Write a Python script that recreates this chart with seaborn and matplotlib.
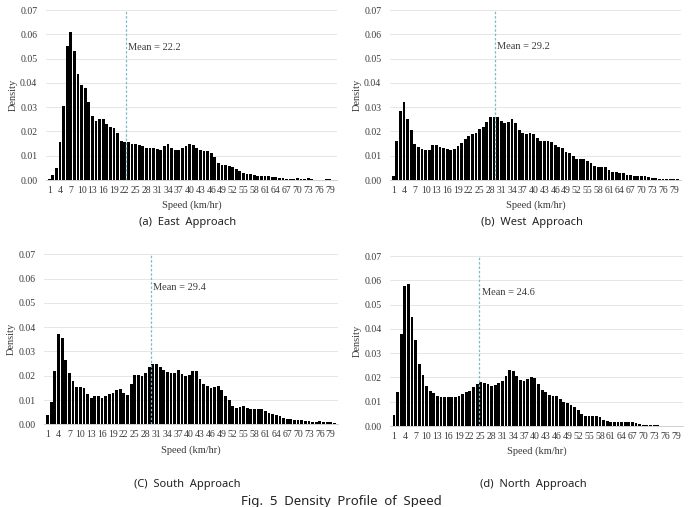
import numpy as np
import pandas as pd
import matplotlib
matplotlib.use("Agg")
import matplotlib.pyplot as plt
import seaborn as sns

sns.set_theme(style="white")
plt.rcParams['font.family'] = ['Liberation Serif', 'DejaVu Serif']

speeds = list(range(1, 81))
tick_labels = [str(s) for s in range(1, 80, 3)]

east = [0.0005, 0.002, 0.005, 0.0155, 0.0305, 0.055, 0.061, 0.053, 0.0435, 0.039,
        0.038, 0.032, 0.0265, 0.0245, 0.025, 0.025, 0.023, 0.022, 0.0215, 0.0195,
        0.016, 0.0155, 0.0155, 0.0148, 0.0147, 0.0143, 0.0138, 0.0132, 0.0133, 0.0133,
        0.0127, 0.0122, 0.014, 0.0147, 0.013, 0.0122, 0.0122, 0.013, 0.014, 0.0148,
        0.0145, 0.0133, 0.0125, 0.012, 0.0118, 0.011, 0.0095, 0.0072, 0.0063, 0.006,
        0.0058, 0.0053, 0.0047, 0.0038, 0.003, 0.0025, 0.0024, 0.0022, 0.0018, 0.0016,
        0.0015, 0.0015, 0.0013, 0.0012, 0.0009, 0.0008, 0.0006, 0.0004, 0.0003, 0.0007,
        0.0006, 0.0006, 0.0007, 0.0003, 0.0002, 0.0001, 0.0001, 0.0003, 0.0003, 0.0002]

west = [0.0018, 0.016, 0.0285, 0.032, 0.025, 0.0205, 0.0147, 0.0135, 0.0128, 0.0125,
        0.0125, 0.0145, 0.0145, 0.0137, 0.0133, 0.0128, 0.0125, 0.0128, 0.014, 0.0152,
        0.0168, 0.018, 0.019, 0.0195, 0.021, 0.022, 0.024, 0.0258, 0.026, 0.026,
        0.0245, 0.0235, 0.0237, 0.025, 0.0235, 0.0205, 0.0193, 0.019, 0.0193, 0.019,
        0.0175, 0.0162, 0.016, 0.016, 0.0155, 0.0143, 0.0137, 0.013, 0.0115, 0.011,
        0.0097, 0.0087, 0.0087, 0.0087, 0.008, 0.0068, 0.0058, 0.0053, 0.0053, 0.0052,
        0.0042, 0.0035, 0.0033, 0.003, 0.0027, 0.0022, 0.002, 0.0018, 0.0016, 0.0016,
        0.0015, 0.0012, 0.0009, 0.0007, 0.0006, 0.0006, 0.0005, 0.0005, 0.0005, 0.0005]

south = [0.004, 0.009, 0.022, 0.037, 0.0355, 0.0265, 0.0213, 0.0178, 0.0155, 0.0152,
         0.0148, 0.0125, 0.0108, 0.0115, 0.0115, 0.011, 0.0118, 0.0125, 0.0128, 0.014,
         0.0145, 0.0128, 0.012, 0.0168, 0.0205, 0.0202, 0.020, 0.021, 0.0237, 0.025,
         0.0248, 0.0237, 0.0222, 0.0215, 0.0212, 0.0213, 0.0222, 0.0207, 0.0197, 0.0205,
         0.0218, 0.0218, 0.0188, 0.0168, 0.0158, 0.015, 0.0152, 0.0158, 0.014, 0.0118,
         0.010, 0.0077, 0.0068, 0.0072, 0.0075, 0.0068, 0.0065, 0.0063, 0.0063, 0.0063,
         0.0055, 0.0045, 0.0042, 0.004, 0.0035, 0.0025, 0.0022, 0.002, 0.0018, 0.0017,
         0.0016, 0.0015, 0.0012, 0.0008, 0.001, 0.0012, 0.001, 0.001, 0.0008, 0.0004]

north = [0.0045, 0.0138, 0.038, 0.0575, 0.0585, 0.045, 0.0355, 0.0255, 0.021, 0.0165,
         0.0145, 0.0135, 0.0122, 0.0118, 0.0118, 0.0118, 0.0118, 0.0118, 0.0122, 0.013,
         0.0138, 0.0145, 0.016, 0.0175, 0.018, 0.0177, 0.0172, 0.0165, 0.017, 0.0178,
         0.0185, 0.0205, 0.023, 0.0225, 0.0205, 0.019, 0.0187, 0.0195, 0.0202, 0.0198,
         0.0172, 0.015, 0.0138, 0.0128, 0.0125, 0.0122, 0.0112, 0.010, 0.0093, 0.0087,
         0.0078, 0.0065, 0.005, 0.0042, 0.004, 0.0043, 0.0043, 0.0037, 0.0025, 0.002,
         0.0018, 0.0018, 0.0018, 0.0015, 0.0017, 0.0017, 0.0015, 0.0012, 0.0008, 0.0006,
         0.0005, 0.0005, 0.0005, 0.0003, 0.0002, 0.0002, 0.0001, 0.0, 0.0, 0.0]

means = [22.2, 29.2, 29.4, 24.6]
captions = ["(a)  East  Approach", "(b)  West  Approach",
            "(C)  South  Approach", "(d)  North  Approach"]
series = [east, west, south, north]
mean_text_y = [0.0545, 0.055, 0.0565, 0.0551]

W, H = 688, 507
# axes boxes in pixels: left, right, y of 0.00, y of 0.07
boxes = [(45.7, 337.0, 180.0, 10.0),
         (389.7, 681.0, 180.0, 10.0),
         (44.0, 338.0, 424.3, 254.4),
         (390.4, 683.0, 426.0, 256.0)]
caption_y = [222, 222, 485, 485]

fig = plt.figure(figsize=(W / 100, H / 100), dpi=100)
fig.patch.set_facecolor('white')

text_col = '#3a3a3a'
for i, (vals, box) in enumerate(zip(series, boxes)):
    l, r, y0, y7 = box
    ax = fig.add_axes([l / W, (H - y0) / H, (r - l) / W, (y0 - y7) / H])
    df = pd.DataFrame({'speed': speeds, 'density': vals})
    sns.barplot(data=df, x='speed', y='density', color='black', saturation=1,
                width=0.78, ax=ax, linewidth=0)
    ax.set_xlim(-1.0, 80.0)
    ax.set_ylim(0, 0.07)
    ax.set_yticks(np.arange(0, 0.0701, 0.01))
    ax.set_yticklabels([f"{v:.2f}" for v in np.arange(0, 0.0701, 0.01)],
                       fontsize=7, color=text_col)
    ax.set_xticks(range(0, 80, 3))
    ax.set_xticklabels(tick_labels, fontsize=7, color=text_col)
    ax.tick_params(axis='x', length=0, pad=4)
    ax.tick_params(axis='y', length=0, pad=6)
    ax.grid(axis='y', color='#e6e6e6', linewidth=0.7)
    ax.set_axisbelow(True)
    for s in ['top', 'right', 'left']:
        ax.spines[s].set_visible(False)
    ax.spines['bottom'].set_color('#d0d0d0')
    ax.spines['bottom'].set_linewidth(0.7)
    ax.set_xlabel('Speed (km/hr)', fontsize=7.5, color=text_col, labelpad=4.5)
    ax.set_ylabel('Density', fontsize=7.5, color=text_col, labelpad=2)
    pos = np.interp(means[i], speeds, np.arange(len(speeds)))
    ax.axvline(pos, color='#7fb8cf', linestyle=(0, (2, 1.5)), linewidth=0.9, zorder=5)
    ax.text(pos + 0.7, mean_text_y[i], f"Mean = {means[i]}", fontsize=7.5,
            color=text_col, va='center', ha='left')
    cx = (l + r) / 2 / W
    fig.text(cx - 0.005, (H - caption_y[i]) / H, captions[i], fontsize=8,
             family=['Noto Sans', 'DejaVu Sans'], ha='center', va='center',
             color='#222222')

fig.text(341 / W, (H - 501) / H, "Fig.  5  Density  Profile  of  Speed",
         fontsize=9.5, family=['Noto Sans', 'DejaVu Sans'], ha='center',
         va='center', color='#222222')

fig.savefig('out.png', dpi=100, facecolor='white')
